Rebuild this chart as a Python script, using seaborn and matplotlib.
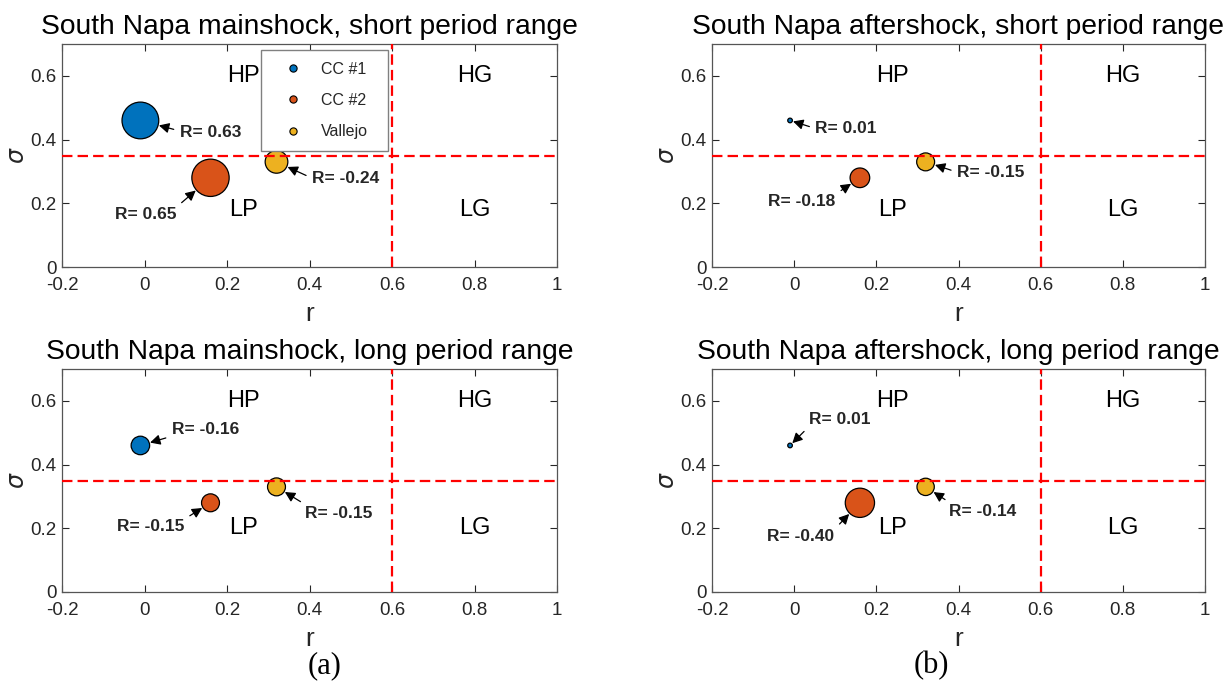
import numpy as np
import pandas as pd
import matplotlib
matplotlib.use("Agg")
import matplotlib.pyplot as plt
import seaborn as sns
from matplotlib.lines import Line2D

# ---------------- data ----------------
stations = ["CC #1", "CC #2", "Vallejo"]
r_vals = [-0.01, 0.16, 0.32]
sigma_vals = [0.46, 0.28, 0.33]
R_main_short = [0.63, 0.65, -0.24]
R_after_short = [0.01, -0.18, -0.15]
R_main_long = [-0.16, -0.15, -0.15]
R_after_long = [0.01, -0.40, -0.14]
titles = ["South Napa mainshock, short period range",
          "South Napa aftershock, short period range",
          "South Napa mainshock, long period range",
          "South Napa aftershock, long period range"]
panel_tags = ["(a)", "(b)"]
quadrant_labels = ["HP", "HG", "LP", "LG"]
r_threshold = 0.6
sigma_threshold = 0.35
x_ticks = [-0.2, 0, 0.2, 0.4, 0.6, 0.8, 1]
x_ticklabels = ["-0.2", "0", "0.2", "0.4", "0.6", "0.8", "1"]
y_ticks = [0, 0.2, 0.4, 0.6]
y_ticklabels = ["0", "0.2", "0.4", "0.6"]
station_colors = ["#0072BD", "#D95319", "#EDB120"]

R_panels = [R_main_short, R_after_short, R_main_long, R_after_long]

# ---------------- style ----------------
sns.set_style("ticks")
plt.rcParams["font.family"] = ["Liberation Sans", "DejaVu Sans"]
plt.rcParams["mathtext.fontset"] = "dejavusans"
plt.rcParams["axes.unicode_minus"] = False

W, H = 1229, 683
fig = plt.figure(figsize=(W / 100, H / 100), dpi=100)

# axes rectangles in pixels: left, right, top, bottom
rects = [(62, 557, 44, 267), (712, 1205, 44, 267),
         (62, 557, 369, 592), (712, 1205, 369, 592)]

SIZE_SCALE = 1110.0  # marker area (pt^2) for |R| = 1

# text offsets (pixels, y up) relative to point, and arrow relpos on text
ann_offsets = [
    [(70, -12), (-65, -37), (69, -17)],
    [(56, -8), (-58, -24), (65, -11)],
    [(65, 16), (-60, -24), (62, -27)],
    [(50, 26), (-59, -34), (57, -25)],
]
ann_relpos = [
    [(0, 0.6), (1, 1), (0, 0.55)],
    [(0, 0.5), (1, 1), (0, 0.55)],
    [(0, 0.05), (1, 1), (0.05, 1)],
    [(0, 0.05), (1, 1), (0.05, 1)],
]
low_sigma = [0.18, 0.18, 0.20, 0.20]

axes_color = "#262626"
palette = dict(zip(stations, station_colors))

for i in range(4):
    l, r, t, b = rects[i]
    ax = fig.add_axes([l / W, (H - b) / H, (r - l) / W, (b - t) / H])
    R = R_panels[i]
    df = pd.DataFrame({"station": stations, "r": r_vals, "sigma": sigma_vals,
                       "absR": np.abs(R)})
    sns.scatterplot(data=df, x="r", y="sigma", hue="station", palette=palette,
                    size="absR", sizes=(0, SIZE_SCALE), size_norm=(0, 1),
                    edgecolor="black", linewidth=0.9, legend=False, ax=ax,
                    zorder=3)
    ax.axhline(sigma_threshold, color="#FF0000", lw=1.6, ls=(0, (4.7, 2.3)), zorder=4)
    ax.axvline(r_threshold, color="#FF0000", lw=1.6, ls=(0, (4.7, 2.3)), zorder=4)

    ax.set_xlim(-0.2, 1)
    ax.set_ylim(0, 0.7)
    ax.set_xticks(x_ticks)
    ax.set_xticklabels(x_ticklabels)
    ax.set_yticks(y_ticks)
    ax.set_yticklabels(y_ticklabels)
    ax.tick_params(axis="both", direction="in", top=True, right=True,
                   length=5, width=0.8, color=axes_color, labelcolor=axes_color,
                   labelsize=13.5)
    ax.tick_params(axis="x", pad=7)
    ax.tick_params(axis="y", pad=4)
    for s in ax.spines.values():
        s.set_color("#555555")
        s.set_linewidth(0.9)
    ax.set_xlabel("r", fontsize=19, color=axes_color, labelpad=6)
    ax.set_ylabel(r"$\sigma$", fontsize=17, color=axes_color, labelpad=1)
    ax.set_title(titles[i], fontsize=20.3, color="black", pad=7)

    # quadrant labels
    qpos = [(0.24, 0.6), (0.80, 0.6), (0.24, low_sigma[i]), (0.80, low_sigma[i])]
    for lab, (qx, qy) in zip(quadrant_labels, qpos):
        ax.text(qx, qy, lab, fontsize=17, ha="center", va="center", color="black")

    # R annotations
    for j in range(3):
        rad_pt = np.sqrt(SIZE_SCALE * abs(R[j])) / 2 + 0.6
        ax.annotate(f"R= {R[j]:.2f}", xy=(r_vals[j], sigma_vals[j]),
                    xytext=ann_offsets[i][j], textcoords="offset pixels",
                    ha="center", va="center", fontsize=12.5, fontweight="bold",
                    arrowprops=dict(arrowstyle="-|>,head_length=0.55,head_width=0.28",
                                    color="black", lw=0.9, shrinkA=2,
                                    shrinkB=rad_pt, mutation_scale=11,
                                    relpos=ann_relpos[i][j]),
                    zorder=5)

    if i == 0:
        handles = [Line2D([], [], ls="none", marker="o", markersize=5.2,
                          markerfacecolor=c, markeredgecolor="black",
                          markeredgewidth=0.8) for c in station_colors]
        leg = ax.legend(handles, stations, loc="upper left",
                        bbox_to_anchor=(0.4014, 0.0, 0.2578, 0.973),
                        mode="expand", borderaxespad=0, fontsize=11.5,
                        frameon=True, fancybox=False, framealpha=1,
                        edgecolor="#808080", borderpad=0.72, labelspacing=1.02,
                        handlelength=2.65, handletextpad=0.4)
        leg.get_frame().set_linewidth(1.0)
        leg.set_zorder(10)

for tag, xc in zip(panel_tags, [325, 931]):
    fig.text(xc / W, (H - 666) / H, tag, fontsize=22, ha="center", va="center",
             family="Liberation Serif", color="black")

fig.savefig("out.png", dpi=100)
